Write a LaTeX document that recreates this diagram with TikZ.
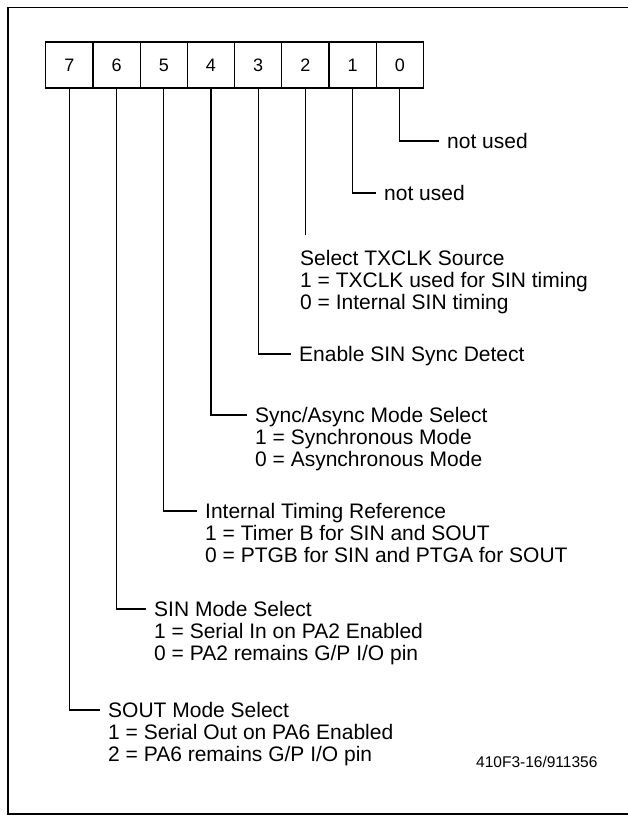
\documentclass[tikz,border=0pt]{standalone}
\usepackage{fontspec}
\setmainfont{Liberation Sans}
\usepackage{tikz}
\usetikzlibrary{positioning}

\tikzset{
  cell/.style={draw, line width=1.3pt, minimum width=47.2pt, minimum height=46pt,
    inner sep=0pt, font=\fontsize{18}{21}\selectfont},
  lbl/.style={anchor=west, inner xsep=8pt, inner ysep=0pt, text height=15pt,
    text depth=0pt, font=\fontsize{21}{22}\selectfont},
  wire/.style={line width=1.2pt},
}

\begin{document}
\begin{tikzpicture}[x=1pt, y=-1pt]
    \useasboundingbox (0,0) rectangle (627,819);
    % outer frame (right side runs off the page)
    \draw[line width=1.6pt] (8,7.5) rectangle (640,814);

    % register cells
    \node[cell] (b7) at (69.4,65) {7};
    \node[cell] (b6) at (116.6,65) {6};
    \node[cell] (b5) at (163.8,65) {5};
    \node[cell] (b4) at (211.0,65) {4};
    \node[cell] (b3) at (258.2,65) {3};
    \node[cell] (b2) at (305.4,65) {2};
    \node[cell] (b1) at (352.6,65) {1};
    \node[cell] (b0) at (399.8,65) {0};

    % bits 0 and 1
    \node[lbl] (t0) at (439,141) {not used};
    \draw[wire] (b0.south) |- (t0.west);
    \node[lbl] (t1) at (376,193) {not used};
    \draw[wire] (b1.south) |- (t1.west);

    % bit 2: line stops above its text
    \coordinate (e2) at (305.4,235);
    \draw[wire] (b2.south) -- (e2);
    \node[lbl] (t2) at (292,258) {Select TXCLK Source};
    \node[lbl] (t2a) at (292,280) {1 = TXCLK used for SIN timing};
    \node[lbl] (t2b) at (292,302) {0 = Internal SIN timing};

    % bit 3
    \node[lbl] (t3) at (291,354) {Enable SIN Sync Detect};
    \draw[wire] (b3.south) |- (t3.west);

    % bit 4
    \node[lbl] (t4) at (247,415) {Sync/Async Mode Select};
    \node[lbl] (t4a) at (247,437) {1 = Synchronous Mode};
    \node[lbl] (t4b) at (247,459) {0 = Asynchronous Mode};
    \draw[wire] (b4.south) |- (t4.west);

    % bit 5
    \node[lbl] (t5) at (197,511) {Internal Timing Reference};
    \node[lbl] (t5a) at (197,533) {1 = Timer B for SIN and SOUT};
    \node[lbl] (t5b) at (197,555) {0 = PTGB for SIN and PTGA for SOUT};
    \draw[wire] (b5.south) |- (t5.west);

    % bit 6
    \node[lbl] (t6) at (146,609) {SIN Mode Select};
    \node[lbl] (t6a) at (146,631) {1 = Serial In on PA2 Enabled};
    \node[lbl] (t6b) at (146,653) {0 = PA2 remains G/P I/O pin};
    \draw[wire] (b6.south) |- (t6.west);

    % bit 7
    \node[lbl] (t7) at (100,710) {SOUT Mode Select};
    \node[lbl] (t7a) at (100,732) {1 = Serial Out on PA6 Enabled};
    \node[lbl] (t7b) at (100,754) {2 = PA6 remains G/P I/O pin};
    \draw[wire] (b7.south) |- (t7.west);

    % figure code
    \node[anchor=west, inner sep=0pt, font=\fontsize{15.5}{17}\selectfont] (code) at (476,762) {410F3-16/911356};
\end{tikzpicture}
\end{document}
